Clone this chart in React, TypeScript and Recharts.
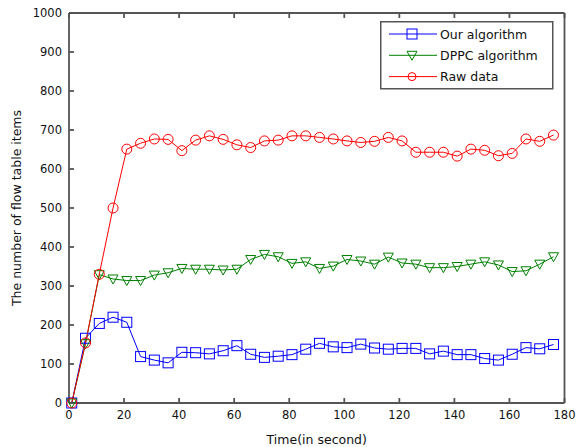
import React from 'react';
import { LineChart, Line, XAxis, YAxis } from 'recharts';

const times = [1, 6, 11, 16, 21, 26, 31, 36, 41, 46, 51, 56, 61, 66, 71, 76, 81, 86, 91, 96, 101, 106, 111, 116, 121, 126, 131, 136, 141, 146, 151, 156, 161, 166, 171, 176];
const ourAlgorithm = [0, 166, 204, 220, 207, 119, 110, 103, 130, 129, 126, 134, 147, 125, 117, 120, 124, 138, 153, 144, 142, 151, 141, 138, 140, 140, 126, 133, 124, 124, 114, 110, 125, 142, 139, 150];
const dppcAlgorithm = [0, 152, 329, 318, 314, 314, 328, 334, 345, 343, 343, 341, 343, 368, 381, 375, 358, 362, 345, 351, 368, 364, 356, 374, 359, 356, 347, 347, 350, 356, 362, 354, 337, 339, 356, 375];
const rawData = [0, 154, 330, 500, 651, 666, 677, 676, 647, 674, 685, 676, 662, 655, 672, 674, 685, 685, 681, 677, 672, 668, 671, 681, 672, 643, 643, 643, 633, 651, 648, 634, 640, 677, 671, 687];

const xTicks = [0, 20, 40, 60, 80, 100, 120, 140, 160, 180];
const yTicks = [0, 100, 200, 300, 400, 500, 600, 700, 800, 900, 1000];

const seriesNames = ['Our algorithm', 'DPPC algorithm', 'Raw data'];
const seriesColors = ['#0000ff', '#008000', '#ff0000'];

const data = times.map((t, i) => ({
  t,
  our: ourAlgorithm[i],
  dppc: dppcAlgorithm[i],
  raw: rawData[i],
}));

const FONT = '"DejaVu Sans", "Liberation Sans", Arial, sans-serif';
const AXIS = '#555';
const AXW = 1.8;

function Square(props: any) {
  const { cx, cy, stroke, key } = props;
  if (cx == null || cy == null) return <g key={key} />;
  return <rect key={key} x={cx - 5} y={cy - 5} width={10} height={10} fill="none" stroke={stroke} strokeWidth={1} />;
}
function Tri(props: any) {
  const { cx, cy, stroke, key } = props;
  if (cx == null || cy == null) return <g key={key} />;
  return <path key={key} d={`M${cx - 5},${cy - 4} L${cx + 5},${cy - 4} L${cx},${cy + 5} Z`} fill="none" stroke={stroke} strokeWidth={1} />;
}
function Circ(props: any) {
  const { cx, cy, stroke, key } = props;
  if (cx == null || cy == null) return <g key={key} />;
  return <circle key={key} cx={cx} cy={cy} r={5} fill="none" stroke={stroke} strokeWidth={1} />;
}

function LegendBox() {
  const rowH = 21.3;
  return (
    <svg width={174} height={69} style={{ display: 'block' }}>
      <rect x={0.75} y={0.75} width={172} height={67} fill="#fff" stroke={AXIS} strokeWidth={1.5} />
      {seriesNames.map((n, i) => {
        const y = 13 + i * rowH;
        const c = seriesColors[i];
        const mx = 32;
        return (
          <g key={n}>
            <line x1={9} x2={57} y1={y} y2={y} stroke={c} strokeWidth={1} />
            {i === 0 && <rect x={mx - 5} y={y - 5} width={10} height={10} fill="none" stroke={c} />}
            {i === 1 && <path d={`M${mx - 5},${y - 4} L${mx + 5},${y - 4} L${mx},${y + 5} Z`} fill="none" stroke={c} />}
            {i === 2 && <circle cx={mx} cy={y} r={4} fill="none" stroke={c} />}
            <text x={60} y={y + 4.5} fontSize={12.5} fontFamily={FONT} fill="#111">{n}</text>
          </g>
        );
      })}
    </svg>
  );
}

export default function App() {
  return (
    <div style={{ position: 'absolute', left: 0, top: 0, width: 576, height: 447, background: '#fff' }}>
      <LineChart width={576} height={447} data={data} margin={{ top: 12, right: 10.5, bottom: 0, left: 0 }}>
        <XAxis
          xAxisId="b"
          dataKey="t"
          type="number"
          domain={[0, 180]}
          ticks={xTicks}
          interval={0}
          height={44}
          tickSize={-5}
          tickMargin={13}
          stroke={AXIS}
          strokeWidth={AXW}
          tick={{ fill: '#111', fontSize: 11.5, fontFamily: FONT }}
          label={{ value: 'Time(in second)', position: 'insideBottom', offset: 3, fill: '#111', fontSize: 12.5, fontFamily: FONT }}
        />
        <XAxis
          xAxisId="t"
          dataKey="t"
          type="number"
          orientation="top"
          domain={[0, 180]}
          ticks={xTicks}
          interval={0}
          height={1}
          tickSize={-5}
          stroke={AXIS}
          strokeWidth={AXW}
          tickFormatter={() => ''}
        />
        <YAxis
          yAxisId="l"
          type="number"
          domain={[0, 1000]}
          ticks={yTicks}
          interval={0}
          width={69}
          tickSize={-5}
          tickMargin={12}
          stroke={AXIS}
          strokeWidth={AXW}
          tick={{ fill: '#111', fontSize: 11.5, fontFamily: FONT }}
          label={{
            content: (p: any) => {
              const vb = p.viewBox || { x: 0, y: 13, width: 69, height: 390 };
              const cx = vb.x + 16;
              const cy = vb.y + vb.height / 2;
              return (
                <text x={cx} y={cy} transform={`rotate(-90 ${cx} ${cy})`} textAnchor="middle" dominantBaseline="central" fontSize={12.5} fontFamily={FONT} fill="#111">
                  The number of flow table items
                </text>
              );
            },
          }}
        />
        <YAxis
          yAxisId="r"
          orientation="right"
          type="number"
          domain={[0, 1000]}
          ticks={yTicks}
          interval={0}
          width={1}
          tickSize={-5}
          stroke={AXIS}
          strokeWidth={AXW}
          tickFormatter={() => ''}
        />
        <Line xAxisId="b" yAxisId="l" dataKey="our" stroke={seriesColors[0]} strokeWidth={1} dot={<Square />} isAnimationActive={false} />
        <Line xAxisId="b" yAxisId="l" dataKey="dppc" stroke={seriesColors[1]} strokeWidth={1} dot={<Tri />} isAnimationActive={false} />
        <Line xAxisId="b" yAxisId="l" dataKey="raw" stroke={seriesColors[2]} strokeWidth={1} dot={<Circ />} isAnimationActive={false} />
      </LineChart>
      <div style={{ position: 'absolute', left: 380, top: 21 }}>
        <LegendBox />
      </div>
    </div>
  );
}
